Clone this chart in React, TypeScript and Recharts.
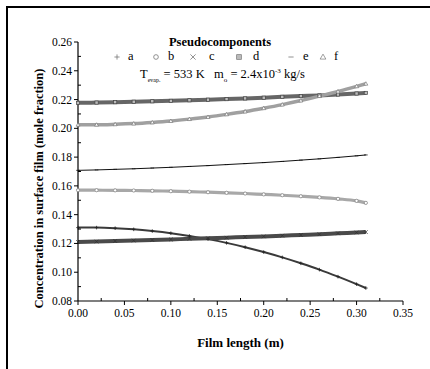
import React from 'react';
import { LineChart, Line, XAxis, YAxis } from 'recharts';

// film length (m)
const filmLength = [0, 0.02, 0.04, 0.06, 0.08, 0.1, 0.12, 0.14, 0.16, 0.18, 0.2, 0.22, 0.24, 0.26, 0.28, 0.3, 0.31];

// concentration in surface film (mole fraction), one list per pseudocomponent
const compA = [0.131, 0.131, 0.1306, 0.1298, 0.1286, 0.1271, 0.1252, 0.123, 0.1204, 0.1174, 0.114, 0.1103, 0.1062, 0.1018, 0.0969, 0.0917, 0.089];
const compB = [0.157, 0.157, 0.1569, 0.1568, 0.1566, 0.1563, 0.156, 0.1556, 0.1552, 0.1547, 0.1541, 0.1535, 0.1528, 0.152, 0.151, 0.1496, 0.1482];
const compC = [0.121, 0.1213, 0.1217, 0.122, 0.1224, 0.1228, 0.1232, 0.1236, 0.124, 0.1245, 0.1249, 0.1254, 0.1259, 0.1264, 0.127, 0.1276, 0.1279];
const compD = [0.2177, 0.2179, 0.2182, 0.2185, 0.2188, 0.2191, 0.2195, 0.2199, 0.2203, 0.2208, 0.2213, 0.2219, 0.2224, 0.2229, 0.2235, 0.2242, 0.2246];
const compE = [0.1708, 0.1711, 0.1715, 0.1719, 0.1724, 0.1729, 0.1735, 0.1741, 0.1748, 0.1755, 0.1762, 0.177, 0.1779, 0.1788, 0.1798, 0.1809, 0.1815];
const compF = [0.2025, 0.2025, 0.2028, 0.2033, 0.2041, 0.2051, 0.2064, 0.2079, 0.2097, 0.2117, 0.214, 0.2165, 0.2193, 0.2224, 0.2256, 0.2292, 0.231];

const xTicks = [0, 0.025, 0.05, 0.075, 0.1, 0.125, 0.15, 0.175, 0.2, 0.225, 0.25, 0.275, 0.3, 0.325, 0.35];
const yTicks = [0.08, 0.09, 0.1, 0.11, 0.12, 0.13, 0.14, 0.15, 0.16, 0.17, 0.18, 0.19, 0.2, 0.21, 0.22, 0.23, 0.24, 0.25, 0.26];

const legendNames = ['a', 'b', 'c', 'd', 'e', 'f'];
const legendShapes = ['plus', 'circle', 'cross', 'square', 'dash', 'triangle'];

const data = filmLength.map((x, i) => ({
  x,
  a: compA[i],
  b: compB[i],
  c: compC[i],
  d: compD[i],
  e: compE[i],
  f: compF[i],
}));

const FONT = '"Liberation Serif", "DejaVu Serif", serif';

const isMajor = (v: number, step: number) => Math.abs(v / step - Math.round(v / step)) < 1e-6;

const XTick = (props: any) => {
  const { x, y, payload } = props;
  const major = isMajor(payload.value, 0.05);
  return (
    <g>
      <line x1={x} x2={x} y1={y} y2={major ? y + 4 : y - 3} stroke="#000" strokeWidth={1} />
      {major && (
        <text x={x} y={y + 16} textAnchor="middle" style={{ fontFamily: FONT, fontSize: 11.5 }} fill="#000">
          {payload.value.toFixed(2)}
        </text>
      )}
    </g>
  );
};

const YTick = (props: any) => {
  const { x, y, payload } = props;
  const major = isMajor(payload.value, 0.02);
  return (
    <g>
      <line x1={x} x2={major ? x - 4 : x + 3} y1={y} y2={y} stroke="#000" strokeWidth={1} />
      {major && (
        <text x={x - 6} y={y + 4} textAnchor="end" style={{ fontFamily: FONT, fontSize: 11.5 }} fill="#000">
          {payload.value.toFixed(2)}
        </text>
      )}
    </g>
  );
};

const Marker = ({ cx, cy, shape, color, s = 2 }: { cx: number; cy: number; shape: string; color: string; s?: number }) => {
  switch (shape) {
    case 'plus':
      return (
        <g stroke={color} strokeWidth={0.8}>
          <line x1={cx - s} x2={cx + s} y1={cy} y2={cy} />
          <line x1={cx} x2={cx} y1={cy - s} y2={cy + s} />
        </g>
      );
    case 'circle':
      return <circle cx={cx} cy={cy} r={s * 0.9} fill="#fff" stroke={color} strokeWidth={0.8} />;
    case 'cross':
      return (
        <g stroke={color} strokeWidth={0.8}>
          <line x1={cx - s} x2={cx + s} y1={cy - s} y2={cy + s} />
          <line x1={cx - s} x2={cx + s} y1={cy + s} y2={cy - s} />
        </g>
      );
    case 'square':
      return <rect x={cx - s * 0.9} y={cy - s * 0.9} width={s * 1.8} height={s * 1.8} fill="#bbb" stroke={color} strokeWidth={0.7} />;
    case 'dash':
      return <line x1={cx - s} x2={cx + s} y1={cy} y2={cy} stroke={color} strokeWidth={0.8} />;
    default:
      return (
        <polygon
          points={`${cx},${cy - s * 1.1} ${cx - s * 1.1},${cy + s * 0.8} ${cx + s * 1.1},${cy + s * 0.8}`}
          fill="#fff"
          stroke={color}
          strokeWidth={0.7}
        />
      );
  }
};

const seriesStyle: Record<string, { stroke: string; width: number; dot: string }> = {
  a: { stroke: '#3a3a3a', width: 2, dot: '#222' },
  b: { stroke: '#a8a8a8', width: 3.2, dot: '#888' },
  c: { stroke: '#4a4a4a', width: 4, dot: '#333' },
  d: { stroke: '#666', width: 4, dot: '#444' },
  e: { stroke: '#111', width: 1, dot: '#111' },
  f: { stroke: '#a0a0a0', width: 3.5, dot: '#777' },
};

const LegendSymbol = ({ shape }: { shape: string }) => (
  <svg width={10} height={10} style={{ display: 'block' }}>
    <Marker cx={5} cy={5} shape={shape} color="#777" s={2.6} />
  </svg>
);

const legendSymbolX = [112, 151, 188, 234, 286, 318];
const legendLetterX = [128, 168, 209, 253, 303, 334];

const App: React.FC = () => {
  return (
    <div style={{ position: 'absolute', left: 0, top: 0, width: 430, height: 369, background: '#fff', overflow: 'hidden' }}>
      {/* frame of the figure */}
      <div
        style={{
          position: 'absolute',
          left: 6,
          top: 6,
          width: 430,
          height: 369,
          borderTop: '2px solid #000',
          borderLeft: '2px solid #000',
        }}
      />
      <LineChart width={430} height={369} data={data} margin={{ top: 42, right: 27, left: 0, bottom: 38 }}>
        <XAxis
          dataKey="x"
          type="number"
          domain={[0, 0.35]}
          ticks={xTicks}
          interval={0}
          tickSize={0}
          tickMargin={0}
          tickLine={false}
          tick={<XTick />}
          height={30}
          axisLine={{ stroke: '#000', strokeWidth: 1.2 }}
          label={{
            content: (p: any) => {
              const vb = p.viewBox;
              return (
                <text
                  x={vb.x + vb.width / 2}
                  y={vb.y + 46}
                  textAnchor="middle"
                  style={{ fontFamily: FONT, fontWeight: 'bold', fontSize: 13 }}
                  fill="#000"
                >
                  Film length (m)
                </text>
              );
            },
          }}
        />
        <YAxis
          type="number"
          domain={[0.08, 0.26]}
          ticks={yTicks}
          interval={0}
          width={78}
          tickSize={0}
          tickMargin={0}
          tickLine={false}
          tick={<YTick />}
          axisLine={{ stroke: '#000', strokeWidth: 1.2 }}
          label={{
            content: (p: any) => {
              const vb = p.viewBox;
              const cx = vb.x + 39;
              const cy = vb.y + vb.height / 2 + 17;
              return (
                <text
                  x={cx}
                  y={cy}
                  transform={`rotate(-90 ${cx} ${cy})`}
                  textAnchor="middle"
                  dominantBaseline="central"
                  style={{ fontFamily: FONT, fontWeight: 'bold', fontSize: 12.5 }}
                  fill="#000"
                >
                  Concentration in surface film (mole fraction)
                </text>
              );
            },
          }}
        />
        {legendNames.map((k, i) => (
          <Line
            key={k}
            type="monotone"
            dataKey={k}
            stroke={seriesStyle[k].stroke}
            strokeWidth={seriesStyle[k].width}
            dot={(p: any) => (
              <Marker key={`${k}-${p.index}`} cx={p.cx} cy={p.cy} shape={legendShapes[i]} color={seriesStyle[k].dot} s={1.8} />
            )}
            activeDot={false}
            isAnimationActive={false}
          />
        ))}
      </LineChart>
      {/* legend block */}
      <div
        style={{
          position: 'absolute',
          left: 120,
          top: 35,
          width: 200,
          textAlign: 'center',
          fontFamily: FONT,
          fontWeight: 'bold',
          fontSize: 12.5,
          lineHeight: '14px',
        }}
      >
        Pseudocomponents
      </div>
      {legendNames.map((n, i) => (
        <React.Fragment key={n}>
          <div style={{ position: 'absolute', left: legendSymbolX[i], top: 52 }}>
            <LegendSymbol shape={legendShapes[i]} />
          </div>
          <div
            style={{
              position: 'absolute',
              left: legendLetterX[i],
              top: 49,
              fontFamily: FONT,
              fontSize: 12.5,
              lineHeight: '14px',
            }}
          >
            {n}
          </div>
        </React.Fragment>
      ))}
      <div
        style={{
          position: 'absolute',
          left: 140,
          top: 63,
          width: 240,
          whiteSpace: 'nowrap',
          fontFamily: FONT,
          fontSize: 12.5,
          lineHeight: '16px',
        }}
      >
        T<sub style={{ fontSize: 6 }}>evap.</sub> = 533 K&nbsp;&nbsp;&nbsp;m<sub style={{ fontSize: 7 }}>o</sub> = 2.4x10
        <sup style={{ fontSize: 7 }}>-3</sup> kg/s
      </div>
    </div>
  );
};

export default App;
